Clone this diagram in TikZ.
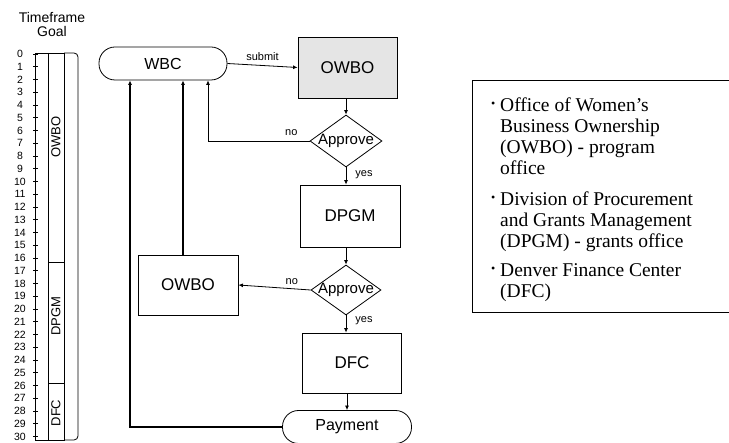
\documentclass[tikz,border=0pt]{standalone}
\usepackage{fontspec}
\setmainfont{Liberation Serif}
\setsansfont{Liberation Sans}
\usetikzlibrary{shapes.geometric,arrows.meta}
\newcommand{\lgbul}{\llap{\raisebox{4pt}{\fontsize{12}{12}\selectfont\textbullet}\hspace{5pt}}}
\begin{document}
\begin{tikzpicture}[x=1pt,y=-1pt,
  fs/.style={font=\sffamily\fontsize{#1}{#1}\selectfont},
  line/.style={line width=0.8pt},
  heavy/.style={line width=1.6pt},
  arr/.style={-{Latex[length=4.5pt,width=4pt]}},
  box/.style={draw, line, minimum width=100pt, minimum height=61pt, inner sep=0pt, fs=17},
  stad/.style={draw, line, rounded corners=16pt, minimum width=128pt, minimum height=33pt, inner sep=0pt, fs=16},
  dec/.style={draw, line, diamond, minimum width=72pt, minimum height=52pt, inner sep=0pt},
  lab/.style={fs=11, inner sep=1pt},
  legend/.style={font=\rmfamily\fontsize{19.5}{21}\selectfont, align=left, inner sep=0pt, anchor=base west},
  tl/.style={fs=10.5, inner sep=0pt},
  goal/.style={fs=13, inner sep=0pt, rotate=90}]
\useasboundingbox (0,0) rectangle (729,443);

% ---------- timeline ----------
\node[fs=14, anchor=base] (tf) at (52,23) {Timeframe};
\node[fs=14, anchor=base] (gl) at (52,37) {Goal};
\draw[line] (35,53) rectangle (64,440);
\draw[line] (48,53) -- (48,440);
\draw[line, rounded corners=4pt] (64,53) -- (78,53) -- (78,440) -- (64,440);
\draw[line] (48,262) -- (64,262);
\draw[line] (48,383) -- (64,383);
\foreach \i in {0,...,30} {
  \node[tl] (n\i) at (20,54+12.75*\i) {\i};
  \draw[line] (33,54+12.75*\i) -- (38,54+12.75*\i);
}
\node[goal] (g1) at (56,137) {OWBO};
\node[goal] (g2) at (56,316) {DPGM};
\node[goal] (g3) at (56,413) {DFC};

% ---------- flowchart ----------
\node[stad] (wbc) at (163,63.5) {WBC};
\node[box, fill=black!10, minimum width=99pt] (owbo1) at (347.5,67.5) {OWBO};
\node[dec, label={[fs=15]center:Approve}] (d1) at (346,141) {};
\node[box, minimum height=62pt] (dpgm) at (350,216) {DPGM};
\node[dec, minimum width=70pt, minimum height=50pt, label={[fs=15]center:Approve}] (d2) at (346,290) {};
\node[box, minimum height=60pt] (owbo2) at (188,285) {OWBO};
\node[box, minimum width=99pt, minimum height=60pt] (dfc) at (352,363) {DFC};
\node[stad, minimum width=129pt] (pay) at (347,427) {Payment};

\coordinate (cno) at (208,0);
\coordinate (cob) at (183,0);
\coordinate (cpay) at (130,0);

\draw[line, arr] (wbc.east) -- node[lab, above=3pt] {submit} (owbo1.west);
\draw[line, arr] (owbo1.south -| d1) -- (d1.north);
\draw[line, arr] (d1.west) -- node[lab, above=4pt, pos=0.18] {no} (d1.west -| cno) -- (wbc.south -| cno);
\draw[line, arr] (d1.south) -- node[lab, right=8pt, pos=0.4] {yes} (d1.south |- dpgm.north);
\draw[line, arr] (dpgm.south -| d2) -- (d2.north);
\draw[line, arr] (d2.west) -- node[lab, above=3pt, pos=0.26] {no} (owbo2.east);
\draw[line, arr] (d2.south) -- node[lab, right=8pt, pos=0.3] {yes} (d2.south |- dfc.north);
\draw[line, arr] (dfc.south -| pay) -- (pay.north);
\draw[heavy, arr] (owbo2.north -| cob) -- (wbc.south -| cob);
\draw[heavy, arr] (pay.west) -| (wbc.south -| cpay);

% ---------- legend ----------
\draw[line] (729,80) -- (472,80) -- (472,312) -- (729,312);
\node[legend] (b1) at (500,175) {\lgbul Office of Women’s\\Business Ownership\\(OWBO) - program\\office};
\node[legend] (b2) at (500,248) {\lgbul Division of Procurement\\and Grants Management\\(DPGM) - grants office};
\node[legend] (b3) at (500,298) {\lgbul Denver Finance Center\\(DFC)};
\end{tikzpicture}
\end{document}
